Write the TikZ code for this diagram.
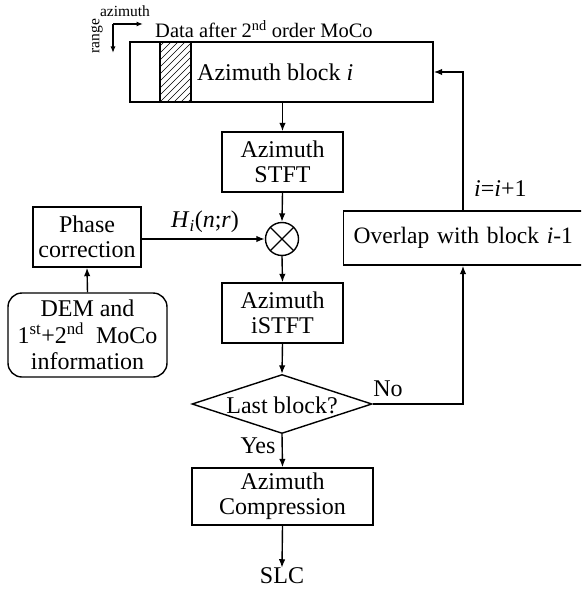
\documentclass[tikz,border=0pt]{standalone}
\usepackage{fontspec}
\setmainfont{Liberation Serif}
\usetikzlibrary{arrows.meta,shapes.geometric,calc}
\begin{document}
\begin{tikzpicture}[x=1pt,y=-1pt,
  every node/.style={font=\fontsize{24}{25}\selectfont},
  box/.style={draw,line width=1.4pt,inner sep=0pt,align=center},
  conn/.style={line width=1.4pt,-{Latex[length=8.5pt,width=6.5pt]}},
  lbl/.style={inner sep=0pt}]
\useasboundingbox (0,0) rectangle (581,591);
% axes
\coordinate (ax0) at (113,24);
\coordinate (axr) at (143,24);
\coordinate (axd) at (113,53);
\draw[line width=1.2pt,-{Latex[length=6.5pt,width=5pt]}] (ax0) -- (axr);
\draw[line width=1.2pt,-{Latex[length=6.5pt,width=5pt]}] (ax0) -- (axd);
\node[lbl,font=\fontsize{15.5}{16}\selectfont] (az) at (125,11) {azimuth};
\node[lbl,font=\fontsize{15.5}{16}\selectfont,rotate=90] (rg) at (97,36) {range};
% main data block
\node[box,minimum width=303pt,minimum height=60pt] (blk) at (281.5,72) {};
\begin{scope}
\clip (160,42) rectangle (191,102);
\foreach \k in {90,97,...,200} {\draw[line width=0.7pt] (\k,102) -- (\k+60,42);}
\end{scope}
\draw[line width=1.4pt] (160,42) -- (160,102) (191,42) -- (191,102);
\node[lbl,anchor=base west,font=\fontsize{20.5}{22}\selectfont] (title) at (155,38) {Data after 2\textsuperscript{nd} order MoCo};
\node[lbl,anchor=base west] (blktxt) at (197,81) {Azimuth block \textit{i}};
% STFT
\node[box,minimum width=121pt,minimum height=60pt] (stft) at (282.5,162) {Azimuth\\STFT};
% multiplier
\node[draw,circle,line width=1.4pt,minimum size=33pt,inner sep=0pt] (mul) at (282,239) {};
\draw[line width=1.4pt] ($(mul)+(-11.7,-11.7)$) -- ($(mul)+(11.7,11.7)$) ($(mul)+(-11.7,11.7)$) -- ($(mul)+(11.7,-11.7)$);
% phase correction
\node[box,minimum width=108pt,minimum height=60pt] (phase) at (87,237) {Phase\\correction};
\node[box,rounded corners=14pt,minimum width=159pt,minimum height=84pt,font=\fontsize{24}{26.5}\selectfont] (dem) at (87.5,335) {DEM and\\1\textsuperscript{st}+2\textsuperscript{nd}\enspace MoCo\\information};
% iSTFT
\node[box,minimum width=121pt,minimum height=60pt] (istft) at (282.5,313) {Azimuth\\iSTFT};
% decision
\node[draw,diamond,aspect=3,line width=1.4pt,inner sep=0pt,minimum width=180pt,minimum height=59pt] (dec) at (282,404) {};
\node[lbl] (dectxt) at (282,405) {Last block?};
% compression
\node[box,minimum width=181pt,minimum height=57pt] (comp) at (282.5,496.5) {Azimuth\\Compression};
\node[lbl] (slc) at (282,576) {SLC};
% overlap
\begin{scope}
\clip (0,0) rectangle (581,591);
\node[box,anchor=west,minimum width=260pt,minimum height=54pt,text width=240pt,align=left,font=\fontsize{23.5}{25}\selectfont] (ovl) at (343,238) {Overlap with block \textit{i}-1};
\end{scope}
% connectors
\coordinate (fbtop) at (463,72);
\coordinate (fbbot) at (463,404);
\draw[conn] (blk.south -| stft) -- (stft.north);
\draw[conn] (stft.south) -- (mul.north);
\draw[conn] (phase.east |- mul) -- (mul.west);
\draw[conn] (dem.north) -- (phase.south);
\draw[conn] (mul.south) -- (istft.north);
\draw[conn] (istft.south) -- (dec.north);
\draw[conn] (dec.south) -- (comp.north);
\draw[conn] (comp.south) -- (slc.north);
\draw[conn] (dec.east) -- (fbbot) -- (fbbot |- ovl.south);
\draw[conn] (fbbot |- ovl.north) -- (fbtop) -- (blk.east |- fbtop);
% labels
\node[lbl] (hlab) at (205,222) {\textit{H}\textsubscript{\textit{i}}(\textit{n};\textit{r})};
\node[lbl] (nolab) at (388,389) {No};
\node[lbl] (yeslab) at (258,446) {Yes};
\node[lbl,anchor=west] (inc) at (474,189) {\textit{i}=\textit{i}+1};
\end{tikzpicture}
\end{document}
